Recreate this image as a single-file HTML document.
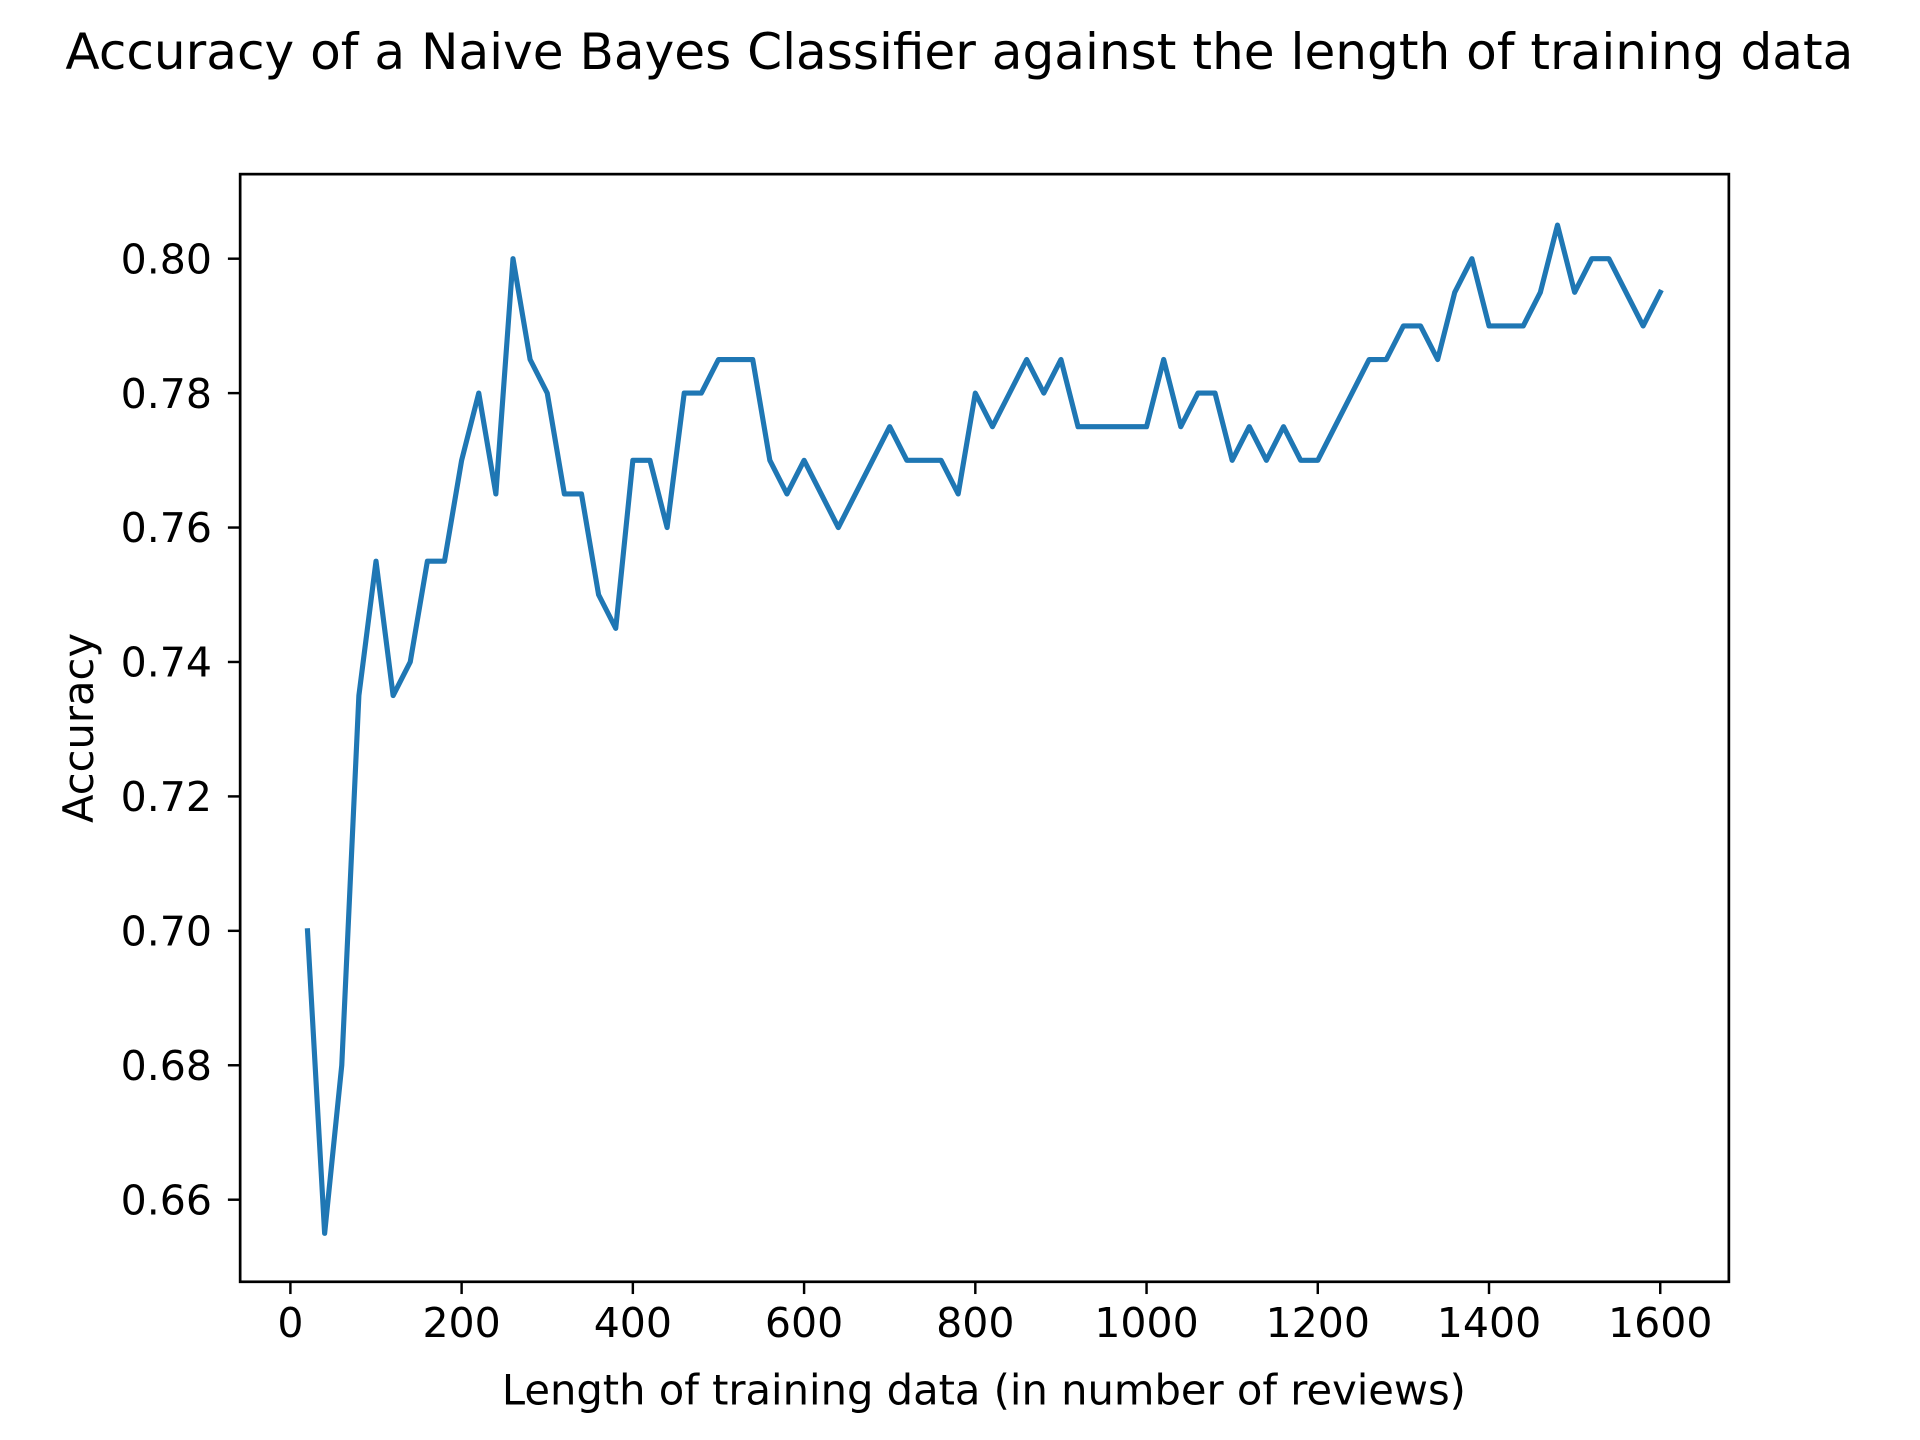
<!DOCTYPE html>
<html><head><meta charset="utf-8"><style>
html,body{margin:0;padding:0;background:#fff;}
svg{display:block;font-family:"DejaVu Sans","Liberation Sans",sans-serif;}
</style></head><body>
<svg id="chart" width="1920" height="1440" viewBox="0 0 1567 1175">
<rect x="0" y="0" width="1567" height="1175" fill="#fff"/>
<text x="783" y="56" font-size="40.9" text-anchor="middle">Accuracy of a Naive Bayes Classifier against the length of training data</text>
<g id="xticks"></g>
<g id="yticks"></g>
<path id="line" fill="none" stroke="#1f77b4" stroke-width="4.2" stroke-linejoin="round" stroke-linecap="square"/>
<rect x="196" y="142" width="1215" height="904" fill="none" stroke="#000" stroke-width="2.2"/>
<text x="803" y="1146" font-size="34" text-anchor="middle">Length of training data (in number of reviews)</text>
<text transform="translate(76,594) rotate(-90)" font-size="34" text-anchor="middle">Accuracy</text>
</svg>
<script>
const xValues = [20,40,60,80,100,120,140,160,180,200,220,240,260,280,300,320,340,360,380,400,420,440,460,480,500,520,540,560,580,600,620,640,660,680,700,720,740,760,780,800,820,840,860,880,900,920,940,960,980,1000,1020,1040,1060,1080,1100,1120,1140,1160,1180,1200,1220,1240,1260,1280,1300,1320,1340,1360,1380,1400,1420,1440,1460,1480,1500,1520,1540,1560,1580,1600];
const accuracy = [0.700,0.655,0.680,0.735,0.755,0.735,0.740,0.755,0.755,0.770,0.780,0.765,0.800,0.785,0.780,0.765,0.765,0.750,0.745,0.770,0.770,0.760,0.780,0.780,0.785,0.785,0.785,0.770,0.765,0.770,0.765,0.760,0.765,0.770,0.775,0.770,0.770,0.770,0.765,0.780,0.775,0.780,0.785,0.780,0.785,0.775,0.775,0.775,0.775,0.775,0.785,0.775,0.780,0.780,0.770,0.775,0.770,0.775,0.770,0.770,0.775,0.780,0.785,0.785,0.790,0.790,0.785,0.795,0.800,0.790,0.790,0.790,0.795,0.805,0.795,0.800,0.800,0.795,0.790,0.795];
const xTickValues = [0,200,400,600,800,1000,1200,1400,1600];
const yTickValues = [0.66,0.68,0.70,0.72,0.74,0.76,0.78,0.80];
const yTickLabels = ["0.66","0.68","0.70","0.72","0.74","0.76","0.78","0.80"];

const NS = "http://www.w3.org/2000/svg";
function xs(v){ return 237 + (v - 0) * (1355 - 237) / 1600; }
function ys(v){ return 979 - (v - 0.66) * (979 - 211) / 0.14; }

let d = "";
for (let i = 0; i < xValues.length; i++) {
  d += (i ? "L" : "M") + xs(xValues[i]).toFixed(2) + "," + ys(accuracy[i]).toFixed(2);
}
document.getElementById("line").setAttribute("d", d);

const xg = document.getElementById("xticks");
xTickValues.forEach(v => {
  const l = document.createElementNS(NS, "line");
  l.setAttribute("x1", xs(v)); l.setAttribute("x2", xs(v));
  l.setAttribute("y1", 1046); l.setAttribute("y2", 1056);
  l.setAttribute("stroke", "#000"); l.setAttribute("stroke-width", "2");
  
  
  xg.appendChild(l);
  const t = document.createElementNS(NS, "text");
  t.setAttribute("x", xs(v)); t.setAttribute("y", 1091);
  t.setAttribute("font-size", "33.5"); t.setAttribute("text-anchor", "middle");
  t.textContent = String(v);
  
  
  xg.appendChild(t);
});

const yg = document.getElementById("yticks");
yTickValues.forEach((v, i) => {
  const l = document.createElementNS(NS, "line");
  l.setAttribute("x1", 186); l.setAttribute("x2", 196);
  l.setAttribute("y1", ys(v)); l.setAttribute("y2", ys(v));
  l.setAttribute("stroke", "#000"); l.setAttribute("stroke-width", "2");
  
  
  yg.appendChild(l);
  const t = document.createElementNS(NS, "text");
  t.setAttribute("x", 173); t.setAttribute("y", ys(v) + 12);
  t.setAttribute("font-size", "33.5"); t.setAttribute("text-anchor", "end");
  t.textContent = yTickLabels[i];
  
  
  yg.appendChild(t);
});
</script>
</body></html>
